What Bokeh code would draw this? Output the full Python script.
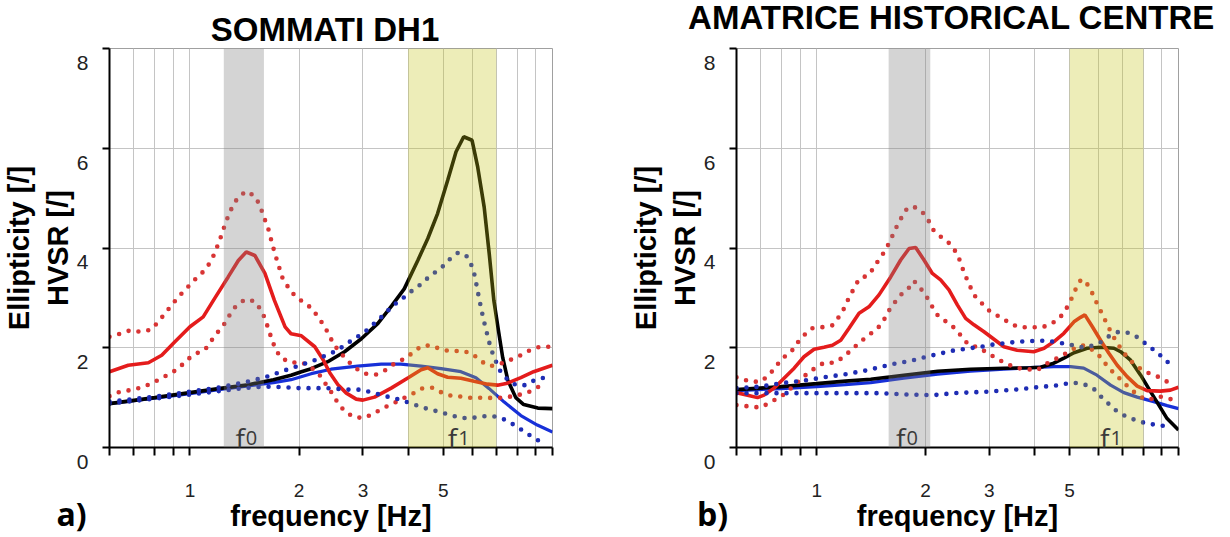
import math
from bokeh.plotting import figure
from bokeh.models import (Range1d, FixedTicker, CustomJSTickFormatter,
                          BoxAnnotation, Label)
from bokeh.layouts import row
from bokeh.embed import file_html
from bokeh.resources import INLINE

# ---------------- data ----------------
titles = ["SOMMATI DH1", "AMATRICE HISTORICAL CENTRE"]
panel_tags = ["a)", "b)"]
x_ticks = [0.6, 0.7, 0.8, 0.9, 1, 2, 3, 4, 5, 6, 7, 8, 9, 10]
x_labeled = [1, 2, 3, 5]
y_ticks = [0, 2, 4, 6, 8]
x_title = "frequency [Hz]"
y_title = "Ellipticity [/]\nHVSR [/]"

# panel a : SOMMATI DH1
a_f0_band = [1.24, 1.6]
a_f1_band = [4.0, 7.0]

a_red_f = [0.6, 0.676, 0.768, 0.836, 0.909, 1.0, 1.088, 1.17, 1.275, 1.36, 1.43, 1.51, 1.61, 1.71, 1.83,
           1.9, 2.03, 2.21, 2.33, 2.43, 2.56, 2.7, 2.875, 3.0, 3.23, 3.59, 4.0, 4.34, 4.53, 4.82, 5.14,
           5.59, 6.08, 6.62, 7.05, 7.51, 8.18, 8.87, 10]
a_red_v = [1.52, 1.65, 1.70, 1.85, 2.12, 2.42, 2.62, 2.99, 3.42, 3.75, 3.92, 3.85, 3.49, 2.95, 2.42,
           2.28, 2.24, 2.02, 1.76, 1.50, 1.26, 1.09, 0.97, 0.95, 1.01, 1.19, 1.40, 1.56, 1.60, 1.48, 1.41,
           1.39, 1.33, 1.27, 1.25, 1.29, 1.40, 1.52, 1.65]

a_red_hi_f = [0.6, 0.642, 0.684, 0.731, 0.781, 0.818, 0.854, 0.89, 0.929, 0.979, 1.026, 1.077, 1.123,
              1.159, 1.191, 1.222, 1.248, 1.283, 1.316, 1.359, 1.432, 1.509, 1.564, 1.59, 1.64, 1.67,
              1.70, 1.74, 1.80, 1.90, 2.03, 2.16, 2.25, 2.34, 2.42, 2.49, 2.6, 2.73, 2.88, 3.04, 3.25,
              3.46, 3.66, 3.88, 4.12, 4.34, 4.62, 4.95, 5.28, 5.65, 6.01, 6.35, 6.72, 7.2, 7.67, 8.18,
              8.66, 9.23, 10]
a_red_hi_v = [2.22, 2.28, 2.35, 2.32, 2.36, 2.52, 2.69, 2.85, 3.02, 3.19, 3.35, 3.49, 3.65,
              3.83, 4.04, 4.26, 4.46, 4.69, 4.86, 5.02, 5.14, 5.04, 4.84, 4.66, 4.42, 4.20,
              3.99, 3.74, 3.40, 3.12, 2.94, 2.80, 2.63, 2.45, 2.26, 2.07, 1.90, 1.73, 1.58, 1.48, 1.46,
              1.55, 1.68, 1.77, 1.90, 2.03, 2.05, 1.96, 1.93, 1.94, 1.88, 1.73, 1.63, 1.68, 1.76, 1.85,
              1.95, 2.02, 2.02]

a_red_lo_f = [0.6, 0.642, 0.684, 0.731, 0.781, 0.83, 0.88, 0.929, 0.979, 1.03, 1.1, 1.14, 1.19, 1.245,
              1.29, 1.34, 1.42, 1.51, 1.565, 1.61, 1.645, 1.68, 1.72, 1.78, 1.9, 2.03, 2.15, 2.28, 2.37,
              2.47, 2.56, 2.67, 2.83, 3.02, 3.21, 3.41, 3.63, 3.86, 4.12, 4.34, 4.67, 4.98, 5.3, 5.65,
              6.04, 6.48, 6.9, 7.39, 7.9, 8.5, 9.0, 9.6]
a_red_lo_v = [1.03, 1.12, 1.15, 1.20, 1.28, 1.38, 1.48, 1.58, 1.75, 1.87, 1.96, 2.12, 2.30, 2.48,
              2.67, 2.84, 2.97, 2.93, 2.77, 2.59, 2.38, 2.18, 1.98, 1.80, 1.70, 1.71, 1.62, 1.45, 1.27,
              1.08, 0.89, 0.73, 0.61, 0.59, 0.68, 0.79, 0.88, 0.98, 1.08, 1.18, 1.20, 1.09, 1.03, 1.02,
              0.99, 1.00, 0.99, 1.00, 1.04, 1.09, 1.19, 1.29]

a_blk_f = [0.6, 0.8, 1.0, 1.2, 1.43, 1.7, 1.9, 2.03, 2.16, 2.4, 2.67, 2.97, 3.3, 3.6, 3.9, 4.25, 4.53,
           4.82, 5.14, 5.42, 5.69, 6.0, 6.22, 6.48, 6.69, 6.89, 7.11, 7.29, 7.53, 7.92, 8.33, 9.11, 10]
a_blk_v = [0.88, 1.0, 1.10, 1.18, 1.25, 1.36, 1.45, 1.52, 1.58, 1.72, 1.92, 2.18, 2.49, 2.84, 3.18, 3.75,
           4.19, 4.69, 5.36, 5.93, 6.23, 6.16, 5.62, 4.82, 3.89, 2.95, 2.30, 1.80, 1.35, 1.00, 0.86, 0.79,
           0.78]

a_blu_f = [0.6, 0.8, 1.0, 1.2, 1.43, 1.7, 1.9, 2.16, 2.45, 2.9, 3.37, 3.82, 4.34, 4.93, 5.59, 6.15,
           6.69, 7.36, 8.18, 9.08, 10]
a_blu_v = [0.88, 0.99, 1.08, 1.16, 1.23, 1.30, 1.36, 1.48, 1.57, 1.63, 1.67, 1.67, 1.63, 1.58, 1.52,
           1.40, 1.18, 0.91, 0.64, 0.45, 0.31]

a_blu_hi_f = [0.6, 0.8, 1.0, 1.2, 1.4, 1.6, 1.8, 2.03, 2.19, 2.47, 2.61, 2.77, 2.94, 3.10, 3.26, 3.44,
              3.63, 3.81, 4.0, 4.25, 4.48, 4.72, 4.98, 5.23, 5.5, 5.79, 5.98, 6.1, 6.27, 6.45, 6.56,
              6.66, 6.78, 6.95, 7.13, 7.48, 7.93, 8.43, 8.92, 9.5]
a_blu_hi_v = [0.92, 1.02, 1.12, 1.20, 1.30, 1.40, 1.53, 1.66, 1.74, 1.90, 2.00, 2.13, 2.25, 2.37, 2.52,
              2.67, 2.85, 2.95, 3.09, 3.22, 3.37, 3.50, 3.63, 3.79, 3.91, 3.84, 3.65, 3.45, 3.00, 2.57,
              2.36, 2.16, 1.96, 1.76, 1.56, 1.38, 1.25, 1.25, 1.35, 1.40]

a_blu_lo_f = [0.6, 0.8, 1.0, 1.2, 1.4, 1.6, 1.8, 2.0, 2.4, 2.75, 2.95, 3.15, 3.59, 3.84, 4.12, 4.39,
              4.67, 5.01, 5.35, 5.7, 6.1, 6.52, 7.0, 7.44, 7.93, 8.39, 8.85, 9.4]
a_blu_lo_v = [0.88, 0.98, 1.06, 1.13, 1.19, 1.22, 1.21, 1.19, 1.19, 1.16, 1.16, 1.11, 1.00, 0.95, 0.87,
              0.80, 0.75, 0.69, 0.63, 0.59, 0.60, 0.63, 0.62, 0.55, 0.43, 0.31, 0.20, 0.09]

# panel b : AMATRICE HISTORICAL CENTRE
b_f0_band = [1.58, 2.06]
b_f1_band = [5.0, 8.0]

b_red_f = [0.6, 0.644, 0.686, 0.715, 0.762, 0.812, 0.866, 0.922, 0.983, 1.047, 1.105, 1.165, 1.228,
           1.309, 1.394, 1.486, 1.601, 1.706, 1.80, 1.877, 1.979, 2.087, 2.2, 2.32, 2.447, 2.58, 2.72,
           2.9, 3.09, 3.29, 3.58, 3.98, 4.25, 4.52, 4.82, 5.14, 5.36, 5.51, 5.78, 6.09, 6.42, 6.77,
           7.21, 7.69, 8.19, 8.92, 9.5, 10]
b_red_v = [1.10, 1.05, 1.00, 1.05, 1.19, 1.39, 1.59, 1.82, 1.97, 2.01, 2.05, 2.15, 2.39,
           2.69, 2.82, 3.06, 3.42, 3.76, 3.99, 4.01, 3.76, 3.49, 3.36, 3.16, 2.86, 2.59, 2.46,
           2.32, 2.17, 2.02, 1.95, 1.92, 1.99, 2.12, 2.29, 2.52, 2.61, 2.66, 2.42, 2.15, 1.89, 1.65,
           1.42, 1.23, 1.14, 1.13, 1.15, 1.21]

b_red_hi_f = [0.6, 0.657, 0.70, 0.738, 0.77, 0.804, 0.848, 0.884, 0.922, 0.969, 1.032, 1.105, 1.152,
              1.195, 1.228, 1.268, 1.309, 1.394, 1.471, 1.55, 1.60, 1.65, 1.706, 1.76, 1.839, 1.945,
              2.03, 2.096, 2.2, 2.32, 2.42, 2.49, 2.55, 2.62, 2.72, 2.87, 3.0, 3.1, 3.29, 3.47, 3.7,
              3.94, 4.2, 4.48, 4.72, 4.93, 5.09, 5.23, 5.38, 5.55, 5.78, 5.95, 6.13, 6.32, 6.52, 6.73,
              6.98, 7.25, 7.6, 8.07, 8.72, 9.3, 9.87]
b_red_hi_v = [1.41, 1.32, 1.32, 1.45, 1.62, 1.79, 1.91, 2.10, 2.25, 2.39, 2.41, 2.45, 2.62,
              2.81, 3.01, 3.19, 3.38, 3.46, 3.72, 3.96, 4.16, 4.38, 4.58, 4.76, 4.84, 4.75,
              4.57, 4.37, 4.23, 4.10, 3.93, 3.74, 3.52, 3.32, 3.06, 2.88, 2.74, 2.68, 2.57, 2.46, 2.41,
              2.41, 2.41, 2.49, 2.62, 2.82, 3.02, 3.22, 3.37, 3.32, 3.09, 2.89, 2.70, 2.50, 2.30, 2.12,
              1.95, 1.79, 1.65, 1.52, 1.43, 1.32, 1.32]

b_red_lo_f = [0.6, 0.657, 0.70, 0.75, 0.799, 0.838, 0.919, 0.979, 1.047, 1.121, 1.195, 1.241, 1.323,
              1.375, 1.455, 1.52, 1.568, 1.635, 1.706, 1.78, 1.856, 1.937, 2.02, 2.087, 2.155, 2.25,
              2.36, 2.5, 2.62, 2.81, 2.97, 3.17, 3.36, 3.6, 4.07, 4.34, 4.62, 4.98, 5.25, 5.49, 5.8,
              6.16, 6.32, 6.63, 7.02, 7.37, 7.82, 8.27, 8.81, 9.5, 10]
b_red_lo_v = [0.85, 0.82, 0.80, 0.92, 1.03, 1.15, 1.42, 1.57, 1.70, 1.70, 1.83, 1.95, 2.12,
              2.23, 2.35, 2.50, 2.70, 2.89, 3.06, 3.16, 3.34, 3.19, 3.00, 2.82, 2.66, 2.55,
              2.45, 2.25, 2.07, 2.00, 1.89, 1.77, 1.67, 1.59, 1.55, 1.69, 1.79, 1.92, 2.02, 2.05, 1.95,
              1.78, 1.65, 1.49, 1.32, 1.17, 1.02, 0.95, 1.03, 0.97, 1.00]

b_blk_f = [0.6, 0.8, 1.0, 1.2, 1.41, 1.74, 2.16, 2.66, 3.29, 3.9, 4.16, 4.52, 4.82, 5.14, 5.59, 6.09,
           6.63, 6.92, 7.37, 7.86, 8.37, 8.74, 9.3, 10]
b_blk_v = [1.16, 1.22, 1.28, 1.33, 1.37, 1.45, 1.53, 1.57, 1.59, 1.60, 1.61, 1.69, 1.79, 1.90, 1.99, 2.01,
           1.99, 1.92, 1.75, 1.45, 1.12, 0.90, 0.58, 0.35]

b_blu_f = [0.6, 0.8, 1.0, 1.2, 1.41, 1.74, 2.16, 2.66, 3.29, 3.9, 4.52, 5.03, 5.47, 5.95, 6.49, 7.06,
           7.69, 8.54, 9.3, 10]
b_blu_v = [1.14, 1.18, 1.22, 1.26, 1.30, 1.39, 1.47, 1.53, 1.57, 1.60, 1.62, 1.62, 1.59, 1.45, 1.25, 1.10,
           1.01, 0.92, 0.84, 0.78]

b_blu_hi_f = [0.6, 0.697, 0.799, 0.919, 1.052, 1.203, 1.38, 1.574, 1.688, 1.81, 1.937, 2.064, 2.21, 2.37,
              2.53, 2.71, 2.9, 3.1, 3.33, 3.57, 3.82, 4.05, 4.35, 4.67, 5.0, 5.33, 5.66, 6.06, 6.42,
              6.83, 7.28, 7.8, 8.19, 8.62, 9.1, 9.6]
b_blu_hi_v = [1.19, 1.22, 1.29, 1.34, 1.41, 1.47, 1.55, 1.65, 1.70, 1.73, 1.79, 1.84, 1.89, 1.94,
              1.97, 2.00, 2.03, 2.07, 2.09, 2.12, 2.13, 2.14, 2.14, 2.10, 2.07, 2.01, 2.02, 2.10, 2.23,
              2.32, 2.30, 2.19, 2.05, 1.94, 1.79, 1.63]

b_blu_lo_f = [0.6, 0.8, 1.0, 1.2, 1.5, 1.8, 2.1, 2.4, 2.96, 3.39, 3.9, 4.17, 4.47, 4.8, 5.12, 5.47, 5.81,
              6.09, 6.42, 6.77, 7.18, 7.66, 8.19, 8.76, 9.38]
b_blu_lo_v = [1.09, 1.09, 1.09, 1.09, 1.09, 1.06, 1.05, 1.09, 1.12, 1.15, 1.19, 1.22, 1.23, 1.27, 1.30,
              1.27, 1.19, 1.03, 0.87, 0.72, 0.62, 0.54, 0.48, 0.45, 0.42]

# ---------------- style ----------------
RED = "#e41c1c"
RED_DOT = "#d83434"
BLUE = "#1730d8"
BLUE_DOT = "#1e2cb4"
BLACK = "#000000"
BOLD_FONT = "Liberation Sans"
X0, X1, Y0, Y1 = 0.6, 10.0, 0.0, 8.0
FRAME_H = 399


def make_panel(idx, curves, f0_band, f1_band, width, border_left, border_right,
               title_pos, tag_pos, f_offsets):
    frame_w = width - border_left - border_right
    decade_px = frame_w / math.log10(X1 / X0)
    unit_px = FRAME_H / (Y1 - Y0)

    def px_to_x(dx):          # pixel offset from the frame's left edge -> frequency
        return X0 * 10 ** (dx / decade_px)

    def px_to_y(dy):          # pixel offset above the frame's bottom edge -> value
        return Y0 + dy / unit_px

    p = figure(width=width, height=537, x_axis_type="log",
               x_range=Range1d(X0, X1), y_range=Range1d(Y0, Y1),
               min_border_left=border_left, min_border_right=border_right,
               min_border_top=48, min_border_bottom=90,
               output_backend="svg", toolbar_location=None)
    p.background_fill_color = "white"
    p.border_fill_color = "white"
    p.outline_line_color = "#a0a0a0"
    p.outline_line_width = 1

    # axes
    p.xaxis.ticker = FixedTicker(ticks=x_ticks)
    p.xaxis.formatter = CustomJSTickFormatter(
        args=dict(show=x_labeled),
        code="return show.includes(tick) ? String(tick) : '';")
    p.yaxis.ticker = FixedTicker(ticks=y_ticks)
    # the original prints each y value a little below its tick
    p.yaxis.formatter = CustomJSTickFormatter(code="return '\\n' + String(tick);")
    for ax in (p.xaxis, p.yaxis):
        ax.axis_line_color = "black"
        ax.axis_line_width = 2
        ax.major_tick_line_color = "black"
        ax.major_tick_line_width = 2
        ax.major_tick_in = 0
        ax.minor_tick_line_color = None
    p.xaxis.major_tick_out = 8
    p.yaxis.major_tick_out = 7
    p.xaxis.major_label_text_font = "Liberation Sans"
    p.xaxis.major_label_text_font_size = "19px"
    p.xaxis.major_label_text_color = "#222222"
    p.xaxis.major_label_standoff = 28
    p.xaxis.axis_label = x_title
    p.xaxis.axis_label_text_font = BOLD_FONT
    p.xaxis.axis_label_text_font_style = "bold"
    p.xaxis.axis_label_text_font_size = "29px"
    p.xaxis.axis_label_text_color = "black"
    p.xaxis.axis_label_standoff = 0

    p.yaxis.major_label_text_font = "Liberation Sans"
    p.yaxis.major_label_text_font_size = "21px"
    p.yaxis.major_label_text_color = "#222222"
    p.yaxis.major_label_standoff = 14
    p.yaxis.axis_label = y_title
    p.yaxis.axis_label_text_font = BOLD_FONT
    p.yaxis.axis_label_text_font_style = "bold"
    p.yaxis.axis_label_text_font_size = "29px"
    p.yaxis.axis_label_text_color = "black"
    p.yaxis.axis_label_standoff = 0

    p.xgrid.grid_line_color = "#c4c4c4"
    p.ygrid.grid_line_color = "#c4c4c4"

    # curves
    (red, red_hi, red_lo, blk, blu, blu_hi, blu_lo) = curves
    p.line(blu[0], blu[1], line_color=BLUE, line_width=3.2)
    p.line(blk[0], blk[1], line_color=BLACK, line_width=3.6)
    p.line(red[0], red[1], line_color=RED, line_width=3.6)
    for c in (red_hi, red_lo):
        p.line(c[0], c[1], line_color=RED_DOT, line_width=4.6, line_dash="0 10", line_cap="round")
    for c in (blu_hi, blu_lo):
        p.line(c[0], c[1], line_color=BLUE_DOT, line_width=4.6, line_dash="0 10", line_cap="round")

    # bands (semi-transparent, on top of the curves)
    p.add_layout(BoxAnnotation(left=f0_band[0], right=f0_band[1], fill_color="#808080",
                               fill_alpha=0.34, line_color=None))
    p.add_layout(BoxAnnotation(left=f1_band[0], right=f1_band[1], fill_color="#c4c414",
                               fill_alpha=0.30, line_color=None))

    # f0 / f1 labels sitting on the x axis
    y_base = px_to_y(9.5)
    for band, digit, off in ((f0_band, "0", f_offsets[0]), (f1_band, "1", f_offsets[1])):
        xc = math.sqrt(band[0] * band[1])
        p.add_layout(Label(x=xc, y=y_base, x_offset=off, text="f", text_align="right",
                           text_baseline="alphabetic", text_font="Open Sans",
                           text_font_size="28px", text_color="#3a3a3a"))
        p.add_layout(Label(x=xc, y=y_base, x_offset=off + 1, text=digit, text_align="left",
                           text_baseline="alphabetic", text_font="Open Sans",
                           text_font_size="20px", text_color="#3a3a3a"))

    # title (a label in the top panel, so it can sit where the original has it)
    p.add_layout(Label(x=px_to_x(title_pos[0]), y=px_to_y(title_pos[1]), text=titles[idx],
                       text_align="center", text_baseline="middle", text_font=BOLD_FONT,
                       text_font_style="bold", text_font_size="33px", text_color="black"),
                 "above")

    # panel tag, left of the y axis and level with the x title
    p.add_layout(Label(x=px_to_x(tag_pos[0]), y=px_to_y(tag_pos[1]), text=panel_tags[idx],
                       text_align="center", text_baseline="middle", text_font="Open Sans",
                       text_font_style="bold", text_font_size="32px", text_color="black"),
                 "right")
    return p


curves_a = ((a_red_f, a_red_v), (a_red_hi_f, a_red_hi_v), (a_red_lo_f, a_red_lo_v),
            (a_blk_f, a_blk_v), (a_blu_f, a_blu_v), (a_blu_hi_f, a_blu_hi_v), (a_blu_lo_f, a_blu_lo_v))
curves_b = ((b_red_f, b_red_v), (b_red_hi_f, b_red_hi_v), (b_red_lo_f, b_red_lo_v),
            (b_blk_f, b_blk_v), (b_blu_f, b_blu_v), (b_blu_hi_f, b_blu_hi_v), (b_blu_lo_f, b_blu_lo_v))

pa = make_panel(0, curves_a, a_f0_band, a_f1_band, 615, 108, 63,
                (216, 418), (-38, -66), (1, 5))
pb = make_panel(1, curves_b, b_f0_band, b_f1_band, 607, 121, 44,
                (215, 430), (-24, -66), (-4, 3))

layout = row(pa, pb)
open("out.html", "w").write(file_html(layout, INLINE))
